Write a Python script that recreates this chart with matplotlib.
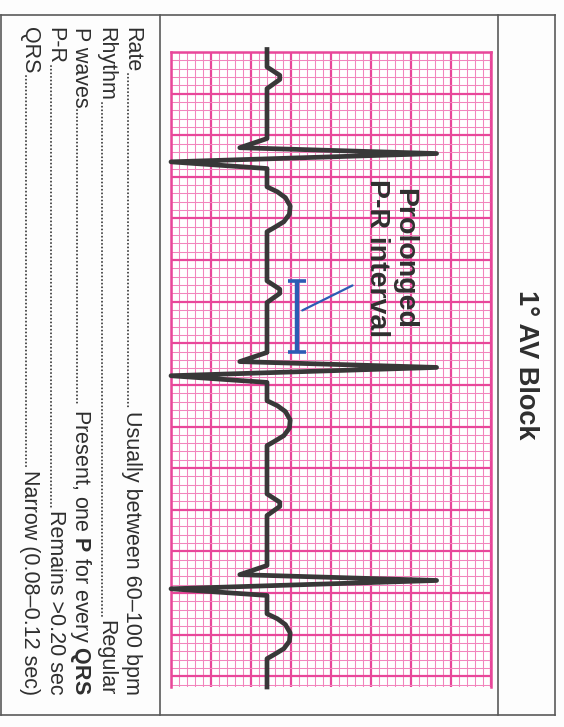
import numpy as np
import matplotlib.pyplot as plt

# ---------------------------------------------------------------
# 1st degree AV block reference card (card is printed sideways)
# ---------------------------------------------------------------
plt.rcParams['font.family'] = ['Liberation Sans', 'DejaVu Sans']
plt.rcParams['mathtext.fontset'] = 'custom'
plt.rcParams['mathtext.rm'] = 'Liberation Sans'
plt.rcParams['mathtext.bf'] = 'Liberation Sans:bold'

# ECG paper extent in mm (1 mm small box, 5 mm big box)
amp_lim = (-12, 28)     # amplitude, drawn left -> right
time_lim = 76.3         # time, drawn top -> bottom

# one beat relative to its R peak: time (mm), amplitude (mm)
beat_t = [-10.4, -9.4, -8.9, -7.8, -1.8, -0.7, 0.0, 1.0, 1.8,
          4.0, 4.6, 5.3, 6.3, 7.3, 8.2, 8.9, 9.4]
beat_a = [0.0, 1.6, 1.6, 0.0, 0.0, -3.4, 21.2, -12.0, 0.0,
          0.0, 1.3, 2.3, 2.9, 2.8, 2.1, 0.9, 0.0]
r_peaks = [12.2, 37.9, 63.5]

# text block
rows = ["Rate", "Rhythm", "P waves", "P-R", "QRS"]
values = ["Usually between 60\u2013100 bpm",
          "Regular",
          r"Present, one $\mathbf{P}$ for every $\mathbf{QRS}$",
          "Remains >0.20 sec",
          "Narrow (0.08\u20130.12 sec)"]
row_x = [126, 100.5, 75, 49.5, 24]   # baseline of each rotated line (px)

TXT = '#2f2f2f'
FRAME = '#5a5a5a'
PINK_MAJ = '#e8479a'
PINK_MIN = '#f285bd'
TRACE = '#383838'
BLUE = '#2c5cb4'

W, H = 564, 727
fig = plt.figure(figsize=(W / 100, H / 100), dpi=100)
fig.patch.set_facecolor('#fdfdfd')

# page axes in pixel coordinates
page = fig.add_axes([0, 0, 1, 1])
page.set_xlim(0, W)
page.set_ylim(H, 0)
page.axis('off')

# card frame
for x in [1, 159.5, 497.5, 555]:
    page.plot([x, x], [15, 715], color=FRAME, lw=1.2)
for y in [15, 715]:
    page.plot([1, 555], [y, y], color=FRAME, lw=1.2)

page.text(526, 365, "1\u00b0 AV Block", rotation=-90, ha='center', va='center',
          fontsize=19.5, fontweight='bold', color=TXT)

# ---------------------------------------------------------------
# rhythm strip
# ---------------------------------------------------------------
ax = fig.add_axes([171 / W, 1 - 687 / H, 320 / W, 635 / H])
ax.set_xlim(*amp_lim)
ax.set_ylim(time_lim, 0)
ax.set_xticks(np.arange(amp_lim[0], amp_lim[1] + 1, 5))
ax.set_xticks(np.arange(amp_lim[0], amp_lim[1] + 1, 1), minor=True)
ax.set_yticks(np.arange(0, 76, 5))
ax.set_yticks(np.arange(0, 77, 1), minor=True)
ax.grid(which='minor', color=PINK_MIN, lw=0.75)
ax.grid(which='major', color=PINK_MAJ, lw=1.6)
ax.tick_params(which='both', length=0, labelbottom=False, labelleft=False)
ax.set_facecolor('white')
for side in ['left', 'right', 'top']:
    ax.spines[side].set_color(PINK_MAJ)
    ax.spines[side].set_linewidth(1.8)
ax.spines['bottom'].set_visible(False)
ax.set_axisbelow(True)

t = [-0.3]
a = [0.0]
for r in r_peaks:
    t += [r + bt for bt in beat_t]
    a += beat_a
t += [time_lim]
a += [0.0]
ax.plot(a, t, color=TRACE, lw=3.4, solid_joinstyle='round', clip_on=False, zorder=5)

# P-R interval marker on the 2nd beat
pr_start = r_peaks[1] + beat_t[0]
pr_end = r_peaks[1] + beat_t[4]
ax.errorbar([3.8], [(pr_start + pr_end) / 2], yerr=[(pr_end - pr_start) / 2],
            fmt='none', ecolor=BLUE, elinewidth=3.2, capsize=6.5, capthick=2.6, zorder=6)
ax.annotate('', xy=(4.1, (pr_start + pr_end) / 2 - 0.6), xytext=(11.0, pr_start + 0.4),
            arrowprops=dict(arrowstyle='-', color=BLUE, lw=1.6), zorder=6)
ax.text(17.2, 24.8, "Prolonged", rotation=-90, ha='center', va='center',
        fontsize=20.5, fontweight='bold', color=TXT, zorder=7)
ax.text(13.8, 24.7, "P-R interval", rotation=-90, ha='center', va='center',
        fontsize=20.5, fontweight='bold', color=TXT, zorder=7)

# ---------------------------------------------------------------
# criteria list with dotted leaders
# ---------------------------------------------------------------
fig.canvas.draw()
renderer = fig.canvas.get_renderer()
inv = page.transData.inverted()
for label, value, x in zip(rows, values, row_x):
    t1 = page.text(x, 27, label, rotation=-90, rotation_mode='anchor',
                   ha='left', va='baseline', fontsize=15.5, color=TXT)
    t2 = page.text(x, 695, value, rotation=-90, rotation_mode='anchor',
                   ha='right', va='baseline', fontsize=15.5, color=TXT)
    b1 = t1.get_window_extent(renderer)
    b2 = t2.get_window_extent(renderer)
    y_end = inv.transform((0, b1.y0))[1]
    y_start = inv.transform((0, b2.y1))[1]
    page.plot([x + 1.5, x + 1.5], [y_end + 2, y_start - 3], color=TXT,
              lw=1.3, linestyle=(0, (0.1, 1.9)), dash_capstyle='round')

fig.savefig('out.png', dpi=100, facecolor=fig.get_facecolor())
